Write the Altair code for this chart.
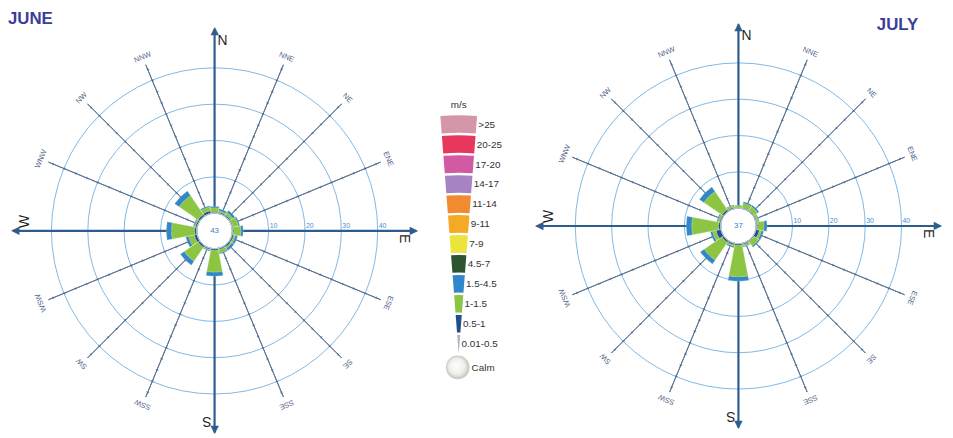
import math
import altair as alt
import pandas as pd

# ---------------- data ----------------
DIRS = ["N", "NNE", "NE", "ENE", "E", "ESE", "SE", "SSE",
        "S", "SSW", "SW", "WSW", "W", "WNW", "NW", "NNW"]
CLASSES = ["0.5-1", "1-1.5", "1.5-4.5"]

june_05 = [0.3, 0.4, 0.4, 0.3, 0.4, 0.5, 0.5, 0.4, 0.5, 0.4, 0.6, 0.8, 0.6, 0.5, 0.6, 0.8]
june_1 = [1.2, 0.4, 0.8, 1.5, 2.0, 0.5, 0.4, 0.9, 6.0, 0.2, 4.6, 1.6, 6.4, 0.3, 6.3, 1.0]
june_15 = [0.4, 0.5, 0.7, 0.4, 0.6, 0.6, 0.7, 0.3, 1.1, 0.2, 1.3, 0.8, 1.4, 0.3, 1.5, 0.4]

july_05 = [0.2, 0.3, 0.3, 0.3, 0.4, 1.0, 0.3, 0.4, 0.5, 0.5, 0.6, 1.4, 0.6, 0.4, 0.6, 0.4]
july_1 = [0.5, 1.2, 1.2, 0.5, 1.8, 0.6, 1.5, 0.4, 8.6, 0.4, 5.9, 1.0, 7.4, 0.5, 6.0, 0.5]
july_15 = [0.1, 0.4, 0.5, 0.2, 0.8, 0.6, 0.4, 0.2, 1.2, 0.3, 1.3, 0.6, 1.5, 0.3, 1.5, 0.2]

CALM = {"JUNE": 43, "JULY": 37}
RINGS = [10, 20, 30, 40]

LEGEND_CLASSES = [">25", "20-25", "17-20", "14-17", "11-14", "9-11", "7-9",
                  "4.5-7", "1.5-4.5", "1-1.5", "0.5-1", "0.01-0.5"]
LEGEND_COLORS = ["#d597a7", "#e8375d", "#d15aa3", "#a783c3", "#f18a31", "#f6a924",
                 "#ece33d", "#2d5331", "#3187c9", "#8cc541", "#1e4f91", "#a9b8c8"]

# ---------------- styling / layout ----------------
CENTERS = {"JUNE": (209, 221), "JULY": (739, 216)}
LEG_APEX = (456, 346)
RING_C = "#7db8e6"
SPOKE_C = "#5a7595"
TICK_C = "#4a6487"
AXIS_C = "#2f5c8e"

theta_scale = alt.Scale(domain=[0, 360], range=[0, 2 * math.pi])
rad_scale = alt.Scale(type="linear", domain=[0, 40], range=[18, 165])
leg_rad_scale = alt.Scale(type="linear", domain=[0, 12], range=[0, 242.4])
color_scale = alt.Scale(domain=LEGEND_CLASSES, range=LEGEND_COLORS)


def T(f):
    return alt.Theta(f, type="quantitative", scale=theta_scale, stack=False)


def R(f, sc=rad_scale):
    return alt.Radius(f, type="quantitative", scale=sc, stack=False)


deg = [i * 22.5 for i in range(16)]
cardinal = [d for d in DIRS if len(d) == 1]
minor = [d for d in DIRS if len(d) > 1]


def rose(month, c05, c1, c15):
    cx, cy = CENTERS[month]
    X, Y = alt.value(cx), alt.value(cy)
    layers = []

    rings = pd.DataFrame({"r": RINGS, "t0": 0, "t1": 360})
    layers.append(alt.Chart(rings).mark_arc(fillOpacity=0, stroke=RING_C, strokeWidth=1).encode(
        theta=T("t0"), theta2=alt.Theta2("t1"), radius=R("r"), x=X, y=Y))

    sp = pd.DataFrame({"dir": DIRS, "t": deg})
    sp["card"] = sp["dir"].isin(cardinal)
    sp["rend"] = sp["card"].map({True: 50.6, False: 44.6})
    sp_minor = sp[~sp["card"]]
    sp_card = sp[sp["card"]]
    layers.append(alt.Chart(sp_minor).mark_arc(fillOpacity=0, stroke=SPOKE_C, strokeWidth=1).encode(
        theta=T("t"), theta2=alt.Theta2("t"), radius=R("rend"), x=X, y=Y))

    ticks = pd.DataFrame([(r["t"], k * 10 / 3) for _, r in sp_minor.iterrows() for k in range(1, 14)],
                         columns=["t", "v"])
    layers.append(alt.Chart(ticks).mark_text(text="+", fontSize=5, color=TICK_C,
                                             baseline="middle", align="center",
                                             font="DejaVu Sans").encode(
        theta=T("t"), radius=R("v"), angle=alt.Angle("t:Q", scale=None), x=X, y=Y))

    layers.append(alt.Chart(sp_card).mark_arc(fillOpacity=0, stroke=AXIS_C, strokeWidth=2.2).encode(
        theta=T("t"), theta2=alt.Theta2("t"), radius=R("rend"), x=X, y=Y))

    # bars
    rows = []
    for i, d in enumerate(DIRS):
        base = 0.0
        for cls, vals in zip(CLASSES, [c05, c1, c15]):
            rows.append({"dir": d, "cls": cls, "a0": deg[i] - 10.8, "a1": deg[i] + 10.8,
                         "v0": base, "v1": base + vals[i]})
            base += vals[i]
    bars = pd.DataFrame(rows)
    layers.append(alt.Chart(bars).mark_arc(stroke="#c9dca6", strokeWidth=0.3).encode(
        theta=T("a0"), theta2=alt.Theta2("a1"), radius=R("v1"), radius2=alt.Radius2("v0"),
        color=alt.Color("cls:N", scale=color_scale, legend=None), x=X, y=Y))

    calm = pd.DataFrame({"m": [month], "z": [0], "t0": [0], "t1": [360], "c": [str(CALM[month])]})
    layers.append(alt.Chart(calm).mark_arc(fill="white", stroke="#b7c2cc", strokeWidth=1).encode(
        theta=T("t0"), theta2=alt.Theta2("t1"), radius=R("z"), x=X, y=Y))
    layers.append(alt.Chart(calm).mark_text(fontSize=8, color="#3b7cc4", font="Liberation Sans").encode(
        text="c:N", x=X, y=Y))

    # ring labels
    rl = pd.DataFrame({"r": RINGS, "t": 90, "lab": [str(r) for r in RINGS]})
    layers.append(alt.Chart(rl).mark_text(fontSize=7, color="#4a8fd0", align="left", baseline="middle",
                                          dx=1, dy=-5, font="Liberation Sans").encode(
        theta=T("t"), radius=R("r"), text="lab:N", x=X, y=Y))

    # direction labels
    dl = sp_minor.assign(r=46.8)
    layers.append(alt.Chart(dl).mark_text(fontSize=7.5, color="#4f6588", align="center", baseline="middle",
                                          font="Liberation Sans").encode(
        theta=T("t"), radius=R("r"), text="dir:N", angle=alt.Angle("t:Q", scale=None), x=X, y=Y))

    cl = sp_card.assign(r=47.3)
    layers.append(alt.Chart(cl).mark_text(fontSize=14, color="#1f1f1f", align="left", baseline="middle",
                                          dx=3, font="Liberation Sans").encode(
        theta=T("t"), radius=R("r"), text="dir:N", angle=alt.Angle("t:Q", scale=None), x=X, y=Y))

    ar = sp_card.assign(r=50.0)
    layers.append(alt.Chart(ar).mark_text(text="▲", fontSize=11, color=AXIS_C, align="center",
                                          baseline="middle", font="DejaVu Sans").encode(
        theta=T("t"), radius=R("r"), angle=alt.Angle("t:Q", scale=None), x=X, y=Y))
    return layers


layers = []
layers += rose("JUNE", june_05, june_1, june_15)
layers += rose("JULY", july_05, july_1, july_15)

# ---------------- legend ----------------
n = len(LEGEND_CLASSES)
leg = pd.DataFrame({"cls": LEGEND_CLASSES, "i": [n - 1 - k for k in range(n)]})
leg["r0"] = leg["i"] + 0.1
leg["r1"] = leg["i"] + 0.98
leg["rm"] = leg["i"] + 0.54
leg["a0"] = -4.4
leg["a1"] = 4.4
LX, LY = alt.value(LEG_APEX[0]), alt.value(LEG_APEX[1])
layers.append(alt.Chart(leg).mark_arc().encode(
    theta=T("a0"), theta2=alt.Theta2("a1"), radius=R("r1", leg_rad_scale), radius2=alt.Radius2("r0"),
    color=alt.Color("cls:N", scale=color_scale, legend=None), x=LX, y=LY))
layers.append(alt.Chart(leg).mark_text(fontSize=10, color="#333333", align="left", baseline="middle",
                                       dx=2, font="Liberation Sans").encode(
    theta=T("a1"), radius=R("rm", leg_rad_scale), text="cls:N", x=LX, y=LY))
unit = pd.DataFrame({"lab": ["m/s"], "t": [0], "r": [12.5]})
layers.append(alt.Chart(unit).mark_text(fontSize=10, color="#333333", align="center", baseline="middle",
                                        font="Liberation Sans").encode(
    theta=T("t"), radius=R("r", leg_rad_scale), text="lab:N", x=LX, y=LY))

calm_leg = pd.DataFrame({"lab": ["Calm"], "t0": [0], "t1": [360]})
grad = {"gradient": "radial", "x1": 0.4, "y1": 0.4, "r1": 0, "x2": 0.5, "y2": 0.5, "r2": 0.55,
        "stops": [{"offset": 0, "color": "#ffffff"}, {"offset": 0.6, "color": "#eef0e9"},
                  {"offset": 1, "color": "#b6bbb0"}]}
layers.append(alt.Chart(calm_leg).mark_arc(fill=grad).encode(
    theta=T("t0"), theta2=alt.Theta2("t1"), radius=alt.value(12), x=alt.value(455), y=alt.value(359)))
layers.append(alt.Chart(calm_leg).mark_text(fontSize=10, color="#333333", align="left", baseline="middle",
                                            font="Liberation Sans").encode(
    text="lab:N", x=alt.value(469), y=alt.value(360)))

# ---------------- titles ----------------
titles = pd.DataFrame({"m": ["JUNE"]})
layers.append(alt.Chart(titles).mark_text(fontSize=17, fontWeight="bold", color="#3b3d98", align="left",
                                          baseline="middle", font="Liberation Sans").encode(
    text="m:N", x=alt.value(0), y=alt.value(7)))
titles2 = pd.DataFrame({"m": ["JULY"]})
layers.append(alt.Chart(titles2).mark_text(fontSize=17, fontWeight="bold", color="#3b3d98", align="left",
                                           baseline="middle", font="Liberation Sans").encode(
    text="m:N", x=alt.value(879), y=alt.value(13)))

chart = alt.layer(*layers).resolve_scale(
    radius="independent", theta="independent"
).properties(width=937, height=422, padding=0, background="white").configure_view(strokeWidth=0)

chart.save("out.html", embed_options={"renderer": "svg", "actions": False})
